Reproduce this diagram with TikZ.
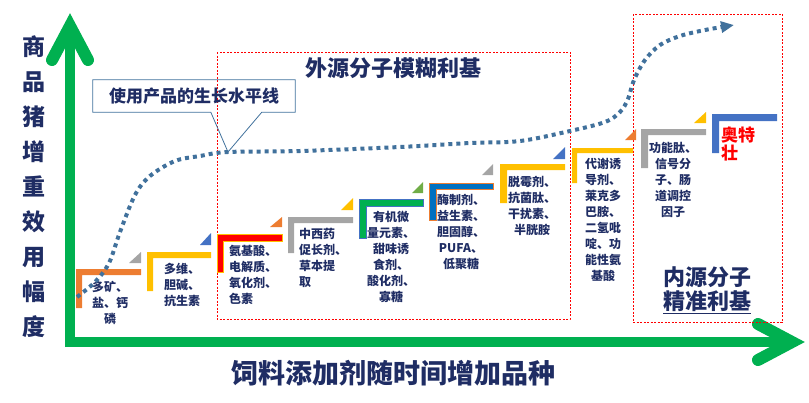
\documentclass[tikz,border=0pt]{standalone}
\usepackage{fontspec}
\setmainfont{Noto Sans CJK SC}
\usepackage{xcolor}
\usepackage{tikz}
\usetikzlibrary{arrows.meta,calc}

\definecolor{navy}{RGB}{31,45,100}
\definecolor{axisgreen}{RGB}{0,176,80}
\definecolor{dotblue}{RGB}{65,113,156}
\definecolor{stOrange}{RGB}{237,125,49}
\definecolor{stYellow}{RGB}{255,192,0}
\definecolor{stGray}{RGB}{165,165,165}
\definecolor{stBlue}{RGB}{68,114,196}
\definecolor{stDeep}{RGB}{0,112,192}
\definecolor{stGreen}{RGB}{0,176,80}
\definecolor{stLeaf}{RGB}{112,173,71}

\begin{document}
\begin{tikzpicture}[
  x=1pt,y=-1pt,
  axis/.style={line width=10pt,axisgreen},
  axishead/.style={line width=12pt,axisgreen,line cap=round,line join=miter},
  zone/.style={draw=red,dash pattern=on 2pt off 1.5pt,line width=0.8pt},
  item/.style={font=\bfseries\fontsize{12}{16}\selectfont,text=navy,align=center,inner sep=0pt},
  itemleft/.style={item,align=left},
  bigtext/.style={font=\bfseries\fontsize{22}{24}\selectfont,text=navy,align=center,inner sep=0pt},
  growth/.style={dotblue,line width=4pt,dash pattern=on 4pt off 4pt},
  callline/.style={draw=dotblue,line width=0.8pt}
]
\useasboundingbox (0,0) rectangle (809,402);

% axes
\draw[axis] (70,347) -- (70,32);
\draw[axishead] (52,60) -- (70,26) -- (88,60);
\draw[axis] (65,342) -- (788,342);
\draw[axishead] (758,324) -- (792,342) -- (758,360);
\node[font=\bfseries\fontsize{23}{35}\selectfont,text=navy,align=center,inner sep=0pt] (ylabel) at (34,187)
  {商\\品\\猪\\增\\重\\效\\用\\幅\\度};
\node[font=\bfseries\fontsize{27}{30}\selectfont,text=navy,inner sep=0pt] (xlabel) at (393,373)
  {饲料添加剂随时间增加品种};

% niches
\draw[zone] (217,52) rectangle (570,319);
\draw[zone] (633,14) rectangle (782,322);
\node[bigtext] (exo) at (393,68) {外源分子模糊利基};
\node[bigtext] (endo) at (707,290) {内源分子\\\underline{精准利基}};

% steps
\fill[stOrange] (76,269) -| (141,275) -| (82,308) -| cycle;
\fill[stGray] (129,263) -- (141,263) -- (141,252) -- cycle;
\node[item] (s1) at (110,303) {多矿、\\盐、钙\\磷};

\fill[stYellow] (147,252) -| (211,258) -| (153,291) -| cycle;
\fill[stBlue] (200,245) -- (211,245) -- (211,233) -- cycle;
\node[item] (s2) at (182,285) {多维、\\胆碱、\\抗生素};

\filldraw[fill=red,draw=stYellow,line width=0.8pt] (217,234) -| (282,241) -| (223,272) -| cycle;
\fill[stOrange] (270,227) -- (282,227) -- (282,217) -- cycle;
\node[itemleft,anchor=west] (s3) at (229,275) {氨基酸、\\电解质、\\氧化剂、\\色素};

\fill[stGray] (288,217) -| (353,223) -| (294,253) -| cycle;
\fill[stYellow] (341,210) -- (353,210) -- (353,198) -- cycle;
\node[itemleft,anchor=west] (s4) at (299,258) {中西药\\促长剂、\\草本提\\取};

\filldraw[fill=stGreen,draw=stBlue,line width=0.8pt] (359,199) -| (423,206) -| (366,238) -| cycle;
\fill[stLeaf] (412,193) -- (423,193) -- (423,182) -- cycle;
\node[item] (s5) at (391,257) {有机微\\量元素、\\甜味诱\\食剂、\\酸化剂、\\寡糖};

\filldraw[fill=stDeep,draw=stOrange,line width=0.8pt] (429,183) -| (493,189) -| (436,220) -| cycle;
\fill[stGray] (482,175) -- (493,175) -- (493,164) -- cycle;
\node[item] (s6) at (461,232) {酶制剂、\\益生素、\\胆固醇、\\PUFA、\\低聚糖};

\fill[stYellow] (500,164) -| (565,170) -| (507,203) -| cycle;
\fill[stBlue] (553,159) -- (565,159) -- (565,147) -- cycle;
\node[item] (s7) at (532,206) {脱霉剂、\\抗菌肽、\\干扰素、\\半胱胺};

\fill[stYellow] (572,148) -| (633,153) -| (577,183) -| cycle;
\fill[stOrange] (625,140) -- (636,140) -- (636,129) -- cycle;
\node[item] (s8) at (603,220) {代谢诱\\导剂、\\莱克多\\巴胺、\\二氢吡\\啶、功\\能性氨\\基酸};

\fill[stGray] (641,129) -| (706,135) -| (648,168) -| cycle;
\fill[stYellow] (694,123) -- (706,123) -- (706,112) -- cycle;
\node[item] (s9) at (673,180) {功能肽、\\信号分\\子、肠\\道调控\\因子};

\fill[stBlue] (712,114) -| (777,121) -| (719,153) -| cycle;
\node[item,text=red,align=left,anchor=west,font=\bfseries\fontsize{17}{18}\selectfont] (s10) at (721,144) {奥特\\壮};

% growth level
\draw[growth,-{Triangle[length=13pt,width=11pt]}] plot[smooth,tension=0.55] coordinates {
  (77,297) (95,282) (109,263) (120,232) (135,195) (150,176) (175,161) (200,156)
  (228,152) (300,151) (400,147) (470,143) (520,141) (570,131) (605,122) (620,112)
  (628,99) (634,80) (645,60) (660,45) (680,36) (705,30) (734,25)};
\coordinate (level) at (228,152);
\node[font=\bfseries\fontsize{17}{18}\selectfont,text=navy,minimum width=202pt,minimum height=32pt,inner sep=0pt] (callout) at (194,96)
  {使用产品的生长水平线};
\draw[callline] ($(callout.south west)+(118,0)$) -- (callout.south west) -- (callout.north west)
  -- (callout.north east) -- (callout.south east) -- ($(callout.south west)+(169,0)$) -- (level) -- cycle;
\end{tikzpicture}
\end{document}
